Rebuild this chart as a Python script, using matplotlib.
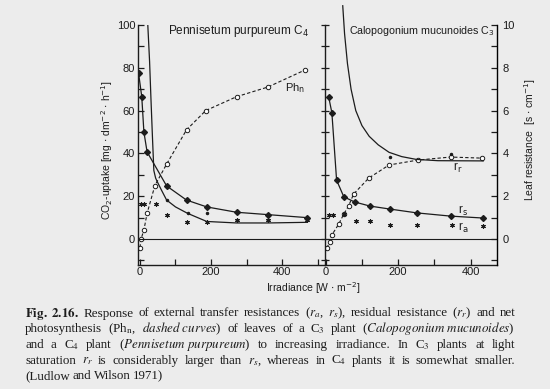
import numpy as np
import matplotlib
matplotlib.use("Agg")
import matplotlib.pyplot as plt
from matplotlib.ticker import MultipleLocator

plt.rcParams['font.family'] = ['Liberation Sans Narrow', 'Liberation Sans', 'DejaVu Sans']
plt.rcParams['mathtext.fontset'] = 'custom'
plt.rcParams['mathtext.rm'] = 'Liberation Sans Narrow'
plt.rcParams['mathtext.it'] = 'Liberation Sans Narrow:italic'

INK = '#1c1c1c'
PAPER = '#ececec'

# ---- C4 : Pennisetum purpureum (left panel) ----
# irradiance W m-2 ; Ph_n in mg CO2 dm-2 h-1 ; resistances in s cm-1
c4_ph_w = [0, 3, 11, 20, 42, 75, 131, 185, 272, 360, 465]
c4_ph = [-4, 0, 4.2, 12, 25, 35, 51, 60, 66.5, 71, 79]

c4_rs_w = [-4, 5, 11, 20, 75, 131, 188, 272, 360, 470]
c4_rs = [7.75, 6.65, 5.0, 4.07, 2.48, 1.82, 1.5, 1.25, 1.14, 1.0]

c4_rr_curve_w = [22, 27, 31, 35, 39, 44, 48, 60, 75, 100, 134, 188, 272, 360, 470]
c4_rr_curve = [10.0, 8.3, 6.5, 4.8, 3.2, 2.85, 2.7, 2.3, 1.82, 1.5, 1.2, 0.82, 0.75, 0.75, 0.78]
c4_rr_w = [75, 134, 188, 272, 360, 470]
c4_rr = [1.82, 1.21, 1.2, 0.9, 0.9, 0.95]

c4_ra_w = [3, 12, 45, 75, 131, 188, 272, 360, 470]
c4_ra = [1.64, 1.64, 1.64, 1.12, 0.8, 0.8, 0.88, 0.88, 0.9]

# ---- C3 : Calopogonium mucunoides (right panel) ----
c3_ph_w = [3, 11, 17, 36, 50, 63, 77, 119, 175, 255, 345, 431]
c3_ph = [-4.2, -1.4, 1.9, 7, 11.7, 15.4, 21, 28.5, 34.6, 36.9, 38.3, 37.8]

c3_rs_w = [8, 17, 30, 50, 80, 122, 177, 252, 345, 435]
c3_rs = [6.65, 5.9, 2.75, 1.97, 1.73, 1.54, 1.4, 1.22, 1.07, 0.98]

c3_rr_curve_w = [47, 52, 60, 70, 83, 100, 120, 145, 175, 210, 250, 310, 435]
c3_rr_curve = [10.9, 9.6, 8.2, 7.0, 6.0, 5.3, 4.8, 4.4, 4.05, 3.85, 3.72, 3.66, 3.65]
c3_rr_w = [177, 345]
c3_rr = [3.85, 3.95]

c3_ra_w = [10, 20, 50, 83, 122, 177, 252, 350, 435]
c3_ra = [1.1, 1.1, 1.15, 0.84, 0.84, 0.65, 0.65, 0.65, 0.6]

caption = [
    r"$\bf{Fig.\ 2.16.}$ Response of external transfer resistances ($r_a$, $r_s$), residual resistance ($r_r$) and net",
    r"photosynthesis (Ph$_\mathrm{n}$, $\it{dashed\ curves}$) of leaves of a C$_3$ plant ($\it{Calopogonium\ mucunoides}$)",
    r"and a C$_4$ plant ($\it{Pennisetum\ purpureum}$) to increasing irradiance. In C$_3$ plants at light",
    r"saturation $r_r$ is considerably larger than $r_s$, whereas in C$_4$ plants it is somewhat smaller.",
    r"(Ludlow and Wilson 1971)",
]


def res(r):
    # resistance axis is CO2 axis / 10
    return np.asarray(r) * 10


def split_words(line):
    # split on spaces that are not inside $...$
    words, cur, in_math = [], '', False
    for ch in line:
        if ch == '$':
            in_math = not in_math
        if ch == ' ' and not in_math:
            words.append(cur)
            cur = ''
        else:
            cur += ch
    words.append(cur)
    return words


def draw_panel(ax, ph_w, ph, rs_w, rs, rrc_w, rrc, rr_w, rr, ra_w, ra, clip_rr):
    ax.plot(ph_w, ph, ls=(0, (3, 2)), lw=0.8, color=INK,
            marker='o', ms=3.2, mfc='white', mec=INK, mew=0.7)
    ax.plot(rs_w, res(rs), '-', lw=0.9, color=INK, marker='D', ms=3, mfc=INK, mec=INK)
    ax.plot(rrc_w, res(rrc), '-', lw=0.9, color=INK, clip_on=clip_rr)
    ax.plot(rr_w, res(rr), ls='none', marker='.', ms=3, color=INK)
    ax.plot(ra_w, res(ra), ls='none', marker=(6, 2, 0), ms=3.2, mew=0.8, color=INK)
    ax.axhline(0, lw=0.8, color=INK)


fig = plt.figure(figsize=(5.5, 3.89), dpi=100, facecolor=PAPER)
W, H = 550, 389
bot, top = 264.7, 25
axL = fig.add_axes([138 / W, 1 - bot / H, 187 / W, (bot - top) / H])
axR = fig.add_axes([325 / W, 1 - bot / H, 172 / W, (bot - top) / H])

for ax in (axL, axR):
    ax.set_facecolor('none')
    ax.set_ylim(-12, 100)
    ax.spines['top'].set_visible(False)
    for s in ('left', 'right', 'bottom'):
        ax.spines[s].set_linewidth(1.0)
        ax.spines[s].set_color(INK)
    ax.xaxis.set_major_locator(MultipleLocator(200))
    ax.xaxis.set_minor_locator(MultipleLocator(100))
    ax.yaxis.set_minor_locator(MultipleLocator(10))
    ax.tick_params(which='both', colors=INK, labelsize=8, width=0.9, length=4)

axL.set_xlim(-5.6, 521)
axR.set_xlim(-2, 473)
axL.spines['right'].set_visible(False)
axL.yaxis.set_major_locator(MultipleLocator(20))
axL.tick_params(axis='y', which='both', direction='in', pad=2)
axL.tick_params(axis='x', which='both', direction='in', pad=2)
axR.tick_params(axis='x', which='both', direction='in', pad=2)

axR.yaxis.set_major_locator(MultipleLocator(10))
axR.tick_params(axis='y', which='both', direction='inout', length=6, labelleft=False)
axR.spines['right'].set_visible(False)

axT = axR.twinx()
axT.set_ylim(-1.2, 10)
axT.spines['top'].set_visible(False)
axT.spines['left'].set_visible(False)
axT.spines['bottom'].set_visible(False)
axT.spines['right'].set_linewidth(1.0)
axT.yaxis.set_major_locator(MultipleLocator(2))
axT.yaxis.set_minor_locator(MultipleLocator(1))
axT.tick_params(which='both', direction='in', length=4, width=0.9, colors=INK, labelsize=8, pad=4)
axT.set_yticks([0, 2, 4, 6, 8, 10])

draw_panel(axL, c4_ph_w, c4_ph, c4_rs_w, c4_rs, c4_rr_curve_w, c4_rr_curve,
           c4_rr_w, c4_rr, c4_ra_w, c4_ra, True)
draw_panel(axR, c3_ph_w, c3_ph, c3_rs_w, c3_rs, c3_rr_curve_w, c3_rr_curve,
           c3_rr_w, c3_rr, c3_ra_w, c3_ra, False)

axL.text(79, 97, r"Pennisetum purpureum C$_4$", fontsize=8.5, va='center', color=INK)
axR.text(63, 97, r"Calopogonium mucunoides C$_3$", fontsize=7.7, va='center', color=INK)
axL.text(437, 70.5, r"Ph$_\mathrm{n}$", fontsize=8, ha='center', va='center', color=INK)
axR.text(365, 33, r"r$_\mathrm{r}$", fontsize=8.5, ha='center', va='center', color=INK)
axR.text(378, 13, r"r$_\mathrm{s}$", fontsize=8.5, ha='center', va='center', color=INK)
axR.text(381, 5, r"r$_\mathrm{a}$", fontsize=8.5, ha='center', va='center', color=INK)

axL.set_ylabel(r"CO$_2$-uptake [mg $\cdot$ dm$^{-2}$ $\cdot$ h$^{-1}$]", fontsize=7.5, color=INK)
axL.yaxis.set_label_coords(-0.123, 0.478)
axT.set_ylabel(r"Leaf resistance  [s $\cdot$ cm$^{-1}$]", fontsize=7.5, color=INK)
axT.yaxis.set_label_coords(1.145, 0.52)
fig.text(313 / W, 1 - 288 / H, r"Irradiance [W $\cdot$ m$^{-2}$]", fontsize=7.5,
         ha='center', va='center', color=INK)

# caption, justified between x=25 and x=515 px except the last line
renderer = fig.canvas.get_renderer()
x0, x1 = 25, 515
for i, line in enumerate(caption):
    y = 1 - (316.5 + 15.7 * i) / H
    words = split_words(line)
    texts = [fig.text(0, y, w, fontsize=9.4, ha='left', va='baseline',
                      family='Liberation Serif', math_fontfamily='stix', color=INK)
             for w in words]
    widths = [t.get_window_extent(renderer).width for t in texts]
    if i < len(caption) - 1:
        gap = (x1 - x0 - sum(widths)) / (len(words) - 1)
    else:
        gap = 2.6
    x = x0
    for t, w in zip(texts, widths):
        t.set_x(x / W)
        x += w + gap

fig.savefig('out.png', dpi=100, facecolor=PAPER)
